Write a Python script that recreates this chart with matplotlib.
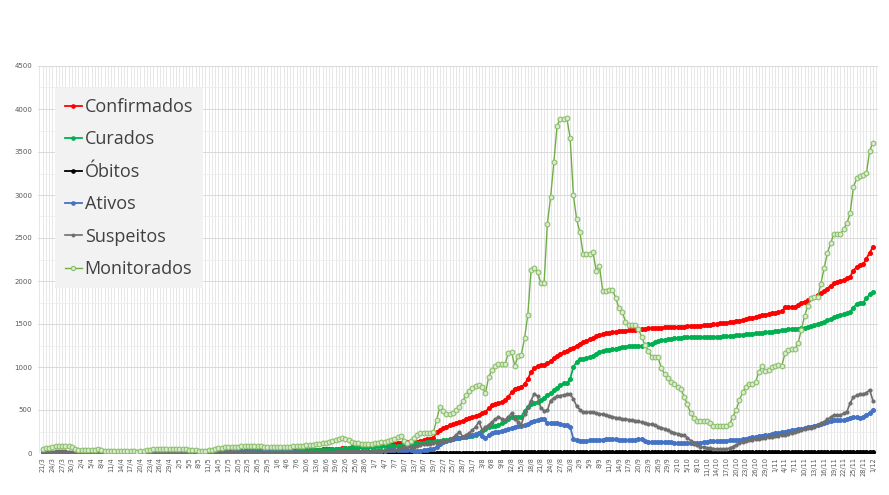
import matplotlib
matplotlib.use("Agg")
import matplotlib.pyplot as plt
import pandas as pd
import numpy as np
from matplotlib.ticker import MultipleLocator

# ---------------- data ----------------
dates = pd.date_range("2020-03-21", "2020-12-01", freq="D")

confirmados = [
    1,1,2,2,3,3,3,4,4,4, 5,5,5,6,6,6,7,7,7,8, 8,8,9,9,9,10,10,10,11,11, 11,12,12,12,13,13,13,14,14,15,
    16,16,17,17,18,18,19,19,20,20, 21,21,22,22,23,23,24,24,25,25, 26,26,27,27,28,28,29,29,30,30,
    31,31,32,32,33,33,34,34,35,35, 36,37,38,39,40,40,41,42,43,
    45,48,52,55,58,62,65,69,72,76, 79,82,86,90,95,100,104,109,113,116, 119,122,124,126,128,130,132,140,151,158, 165,172,
    245,265,287,306,320,333,345,360,376,392, 405,418,430,442,460,480,520,555,570,580,
    592,620,655,705,750,760,768,800,860,940, 990,1008,1018,1028,1042,1070,1100,1130,1155,1170,
    1185,1205,1225,1248,1268,1290,1308,1320,1333,1355, 1372,1382,1391,1398,1405,1411,1415,1419,1423,1427,
    1430,1434,1438,1442,1446,1450,1452,1454,1456,1458, 1461,1462,1464,1465,1467,1469,1470,1472,1474,1476,
    1478,1482,1486,1490,1494,1498,1502,1506,1510,1516, 1522,1528,1534,1540,1548,1557,1566,1575,1585,1593,
    1601,1608,1616,1624,1632,1640,1648,1692,1695,1697, 1700,1720,1740,1758,1778,1798,1815,1838,1860,1880,
    1912,1945,1973,1985,1998,2012,2030,2050,2120,2165, 2186,2194,2260,2330,2390,
]

curados = [
    0,0,0,0,0,0,0,0,0,0, 1,1,1,1,1,2,2,2,2,2, 3,3,3,3,4,4,4,4,5,5, 5,5,6,6,6,7,7,7,8,8,
    8,9,9,9,10,10,10,11,11,11, 12,12,12,13,13,14,14,15,15,16, 16,17,17,18,18,19,19,20,20,21,
    22,22,23,24,25,26,27,28,29,30, 31,32,33,34,35,36,37,38,40,
    42,45,48,51,54,57,60,63,66,69, 72,74,75,76,77,77,78,79,79,80, 80,81,88,95,101,107,113,117,120,124, 128,131,
    136,141,146,151,158,164,171,177,184,190, 196,203,209,235,260,280,298,310,316,324,
    345,370,398,420,422,422,424,490,535,565, 580,592,620,645,670,700,730,760,790,810,
    810,860,1000,1060,1093,1096,1100,1112,1128,1155, 1178,1185,1192,1198,1204,1211,1217,1227,1236,1240,
    1244,1244,1245,1246,1254,1263,1272,1285,1298,1310, 1317,1323,1330,1334,1338,1341,1344,1345,1346,1347,
    1347,1348,1349,1350,1350,1351,1352,1353,1355,1358, 1362,1366,1370,1374,1377,1381,1384,1388,1391,1395,
    1399,1403,1407,1411,1416,1421,1427,1432,1437,1441, 1444,1447,1450,1458,1468,1478,1488,1500,1513,1527,
    1545,1560,1576,1590,1602,1615,1628,1645,1690,1735, 1748,1750,1800,1845,1870,
]

obitos = [
    0,0,0,0,0,0,0,0,0,0, 0,0,0,0,0,0,0,0,0,0, 0,0,0,0,0,0,0,0,0,0, 1,1,1,1,1,1,1,1,1,1,
    1,1,1,1,1,1,1,1,1,1, 1,1,1,1,1,1,1,1,1,1, 1,1,1,1,1,1,1,1,1,1,
    1,1,1,1,1,2,2,2,2,2, 2,2,2,2,2,2,2,2,2,
    2,2,2,2,2,2,2,2,2,2, 2,2,2,2,2,3,3,3,3,3, 3,3,3,3,3,3,3,3,3,3, 3,3,
    4,4,4,4,4,4,4,4,4,4, 5,5,5,5,5,5,5,5,5,5,
    6,6,6,6,6,6,6,6,6,6, 7,7,7,7,7,7,7,7,7,7,
    8,8,8,8,8,8,8,8,8,8, 8,8,8,8,8,9,9,9,9,9,
    9,9,9,9,9,9,9,9,9,9, 9,9,9,9,10,10,10,10,10,10,
    10,10,10,10,10,10,10,10,10,10, 10,10,11,11,11,11,11,11,11,11,
    11,11,11,11,11,12,12,12,12,12, 12,12,12,12,12,12,13,13,13,13,
    13,13,13,13,13,13,14,14,14,14, 14,14,14,14,15,
]

ativos = [
    1,1,2,2,3,3,3,4,4,4, 4,4,4,5,5,4,5,5,5,6, 5,5,6,6,5,6,6,6,6,6, 6,7,6,6,7,6,6,7,6,7,
    8,7,8,8,8,8,9,8,9,9, 9,9,10,9,10,9,10,9,10,9, 10,9,10,9,10,9,10,9,10,9,
    9,9,9,8,8,7,7,6,6,5, 5,5,5,5,5,4,4,4,3,
    5,6,7,8,8,9,9,10,10,11, 12,14,16,18,20,23,26,30,33,35, 37,39,36,33,30,27,22,25,30,38, 42,48,
    75,105,131,142,152,162,171,178,185,192, 198,208,218,229,195,175,205,235,242,248,
    255,264,277,290,302,312,318,324,340,358, 372,382,390,392,350,345,344,345,338,330,
    322,306,160,148,145,143,143,146,148,151, 153,155,157,159,158,157,155,154,153,152,
    151,155,158,159,140,131,130,129,128,128, 128,126,124,120,117,114,113,113,113,113,
    115,120,127,131,134,137,140,142,143,145, 146,148,150,151,158,166,174,182,190,196,
    203,209,215,221,228,235,242,248,255,262, 268,275,283,291,299,306,316,326,336,350,
    363,376,378,380,382,384,395,408,420,415, 410,420,438,470,505,
]

suspeitos = [
    10,12,14,16,18,20,20,18,16,14, 12,10,8,6,5,5,4,4,3,3, 3,3,2,2,2,2,2,2,2,2, 2,2,2,2,2,3,3,3,3,3,
    3,3,4,4,4,5,5,5,5,5, 6,6,6,6,6,7,7,7,7,7, 8,8,8,8,8,9,9,9,9,9,
    10,10,10,10,10,11,11,11,11,11, 12,12,12,13,13,14,14,15,15,
    16,17,18,18,19,20,20,21,22,22, 23,24,25,26,27,28,29,30,32,35, 40,55,70,75,65,75,85,95,101,105, 109,113,
    122,131,138,145,151,180,209,248,190,210, 229,268,306,364,267,300,330,360,395,415,
    400,384,420,461,400,364,330,450,530,610, 690,660,520,492,495,610,640,658,668,676,
    682,686,630,545,505,480,477,474,472,465, 457,450,442,432,422,412,403,398,394,389,
    384,376,368,359,350,342,333,322,308,295, 282,265,250,234,225,215,205,180,145,110,
    88,75,65,58,54,51,49,47,47,50, 55,75,95,113,125,138,151,156,161,166,
    171,178,185,191,198,203,209,215,221,232, 244,255,267,277,287,296,306,325,345,364,
    390,415,440,442,442,460,480,580,650,670, 682,686,700,735,610,
]

monitorados = [
    43,55,62,70,76,81,81,81,81,70, 50,35,32,30,30,32,38,43,35,28, 25,24,24,25,26,27,26,22,18,15,
    18,25,32,38,42,44,45,46,46,47,
    48,48,47,46,44,40,35,30,28,27, 28,30,38,48,56,62,66,68,70,72, 74,76,78,79,80,82,80,76,72,70,
    70,68,66,68,70,72,74,76,78,80, 84,88,92,96,100,105,112,120,130,
    140,150,162,172,165,150,130,115,112,110, 108,106,105,112,118,125,132,140,150,165, 185,200,135,115,140,175,210,229,230,228, 229,240,
    384,538,490,455,453,470,495,540,600,674, 720,755,780,790,771,694,887,960,1010,1031,
    1031,1031,1159,1178,1012,1128,1140,1334,1605,2128, 2147,2108,1973,1973,2663,2973,3380,3806,3880,3880,
    3892,3666,3000,2717,2566,2314,2314,2314,2341,2120, 2178,1887,1880,1895,1895,1806,1682,1643,1527,1488,
    1488,1488,1440,1345,1256,1190,1120,1120,1120,985, 920,868,830,800,764,750,655,570,461,403,
    376,376,376,376,345,318,318,318,318,318, 337,422,500,616,705,771,802,806,829,946,
    1012,953,969,996,1010,1023,1012,1159,1198,1205, 1205,1275,1430,1593,1709,1798,1810,1810,1965,2147,
    2322,2438,2547,2547,2547,2600,2671,2787,3089,3194, 3217,3229,3252,3515,3608,
]

series_names = ["Confirmados", "Curados", "Óbitos", "Ativos", "Suspeitos", "Monitorados"]
series_values = [confirmados, curados, obitos, ativos, suspeitos, monitorados]
for n, v in zip(series_names, series_values):
    assert len(v) == len(dates), (n, len(v), len(dates))

tick_labels = [f"{d.day}/{d.month}" for d in dates]

# ---------------- styles ----------------
styles = {
    "Confirmados": dict(color="#FF0000", marker="o", ms=2.6, mfc="#FF0000", mec="#FF0000", lw=1.3),
    "Curados": dict(color="#00B050", marker="o", ms=2.6, mfc="#00B050", mec="#00B050", lw=1.3),
    "Óbitos": dict(color="#000000", marker="o", ms=2.6, mfc="#000000", mec="#000000", lw=1.3),
    "Ativos": dict(color="#4472C4", marker="o", ms=2.6, mfc="#4472C4", mec="#4472C4", lw=1.3),
    "Suspeitos": dict(color="#6E6E6E", marker="o", ms=2.0, mfc="#6E6E6E", mec="#6E6E6E", lw=1.2),
    "Monitorados": dict(color="#70AD47", marker="o", ms=3.4, mfc="#D9EAD0", mec="#8CC06A", mew=0.8, lw=1.0),
}

fig = plt.figure(figsize=(8.89, 4.95), dpi=100)
ax = fig.add_axes([37.8 / 889, 42 / 495, 840 / 889, 387 / 495])

x = np.arange(len(dates))
for n, v in zip(series_names, series_values):
    ax.plot(x, v, label=n, **styles[n])

ax.set_xlim(-1.5, len(dates) + 0.5)
ax.set_ylim(0, 4500)

ax.set_xticks(x[::3])
ax.set_xticklabels(tick_labels[::3], rotation=90, fontsize=4.8, color="#595959")
ax.xaxis.set_minor_locator(MultipleLocator(1))
ax.yaxis.set_major_locator(MultipleLocator(500))
ax.yaxis.set_minor_locator(MultipleLocator(250))
ax.tick_params(axis="y", labelsize=5, labelcolor="#595959", length=0, pad=4)
ax.tick_params(axis="x", length=0, pad=3)
ax.tick_params(which="minor", length=0)

ax.grid(which="major", axis="x", color="#E3E3E3", lw=0.6)
ax.grid(which="minor", axis="x", color="#E3E3E3", lw=0.6)
ax.grid(which="major", axis="y", color="#D9D9D9", lw=0.7)
ax.grid(which="minor", axis="y", color="#EDEDED", lw=0.6)
ax.set_axisbelow(True)
for s in ax.spines.values():
    s.set_visible(False)

leg = ax.legend(loc="upper left", bbox_to_anchor=(17 / 840, (453 - 88) / 387),
                borderaxespad=0, frameon=True, fancybox=False,
                prop={"family": ["Open Sans", "DejaVu Sans"], "size": 13},
                labelcolor="#404040", handlelength=0.95, handletextpad=0.15,
                labelspacing=0.8, borderpad=0.55, markerscale=0.9)
leg.get_frame().set_facecolor("#F2F2F2")
leg.get_frame().set_edgecolor("none")
leg.get_frame().set_alpha(1)

fig.savefig("out.png", dpi=100)
